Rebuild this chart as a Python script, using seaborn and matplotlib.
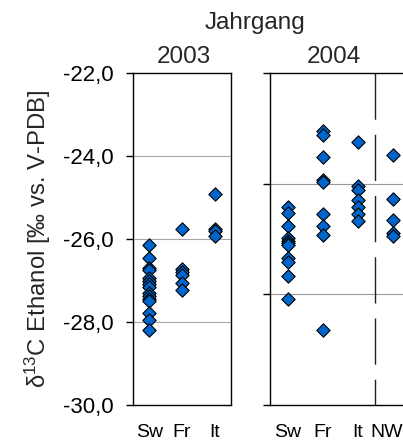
import matplotlib
matplotlib.use("Agg")
import matplotlib.pyplot as plt
import seaborn as sns
import pandas as pd
from matplotlib.transforms import ScaledTranslation

# ---- data ----
origins_2003 = ["Sw", "Fr", "It"]
origins_2004 = ["Sw", "Fr", "It", "NW"]

sw_2003 = [-26.15, -26.45, -26.70, -26.75, -26.95, -27.02, -27.08, -27.15,
           -27.30, -27.38, -27.45, -27.50, -27.80, -27.97, -28.20]
fr_2003 = [-25.75, -26.72, -26.80, -26.88, -27.06, -27.23]
it_2003 = [-24.92, -25.75, -25.82, -25.92]

sw_2004 = [-25.24, -25.38, -25.70, -25.97, -26.05, -26.10, -26.15, -26.45,
           -26.57, -26.90, -27.44]
fr_2004 = [-23.39, -23.50, -24.03, -24.57, -24.63, -25.39, -25.70, -25.91, -28.20]
it_2004 = [-23.67, -24.72, -24.82, -25.06, -25.22, -25.40, -25.56]
nw_2004 = [-23.97, -25.03, -25.55, -25.85, -25.92]

ytick_values = [-30.0, -28.0, -26.0, -24.0, -22.0]
ytick_labels = ["-30,0", "-28,0", "-26,0", "-24,0", "-22,0"]
ytick_values_2004 = [-30.0, -27.3333, -24.6667, -22.0]
years = ["2003", "2004"]
group_title = "Jahrgang"
ylabel = "δ$^{13}$C Ethanol [‰ vs. V-PDB]"

# ---- tables ----
def make_df(groups):
    rows = []
    for origin, vals in groups:
        for v in vals:
            rows.append({"origin": origin, "d13C": v})
    return pd.DataFrame(rows)

df03 = make_df(zip(origins_2003, [sw_2003, fr_2003, it_2003]))
df04 = make_df(zip(origins_2004, [sw_2004, fr_2004, it_2004, nw_2004]))

# ---- style ----
sns.set_style("white")
plt.rcParams["font.family"] = ["Liberation Sans", "DejaVu Sans"]
plt.rcParams["mathtext.fontset"] = "custom"
plt.rcParams["mathtext.rm"] = "Liberation Sans"
plt.rcParams["mathtext.it"] = "Liberation Sans"
plt.rcParams["lines.scale_dashes"] = False

W, H = 403, 441
fig = plt.figure(figsize=(W / 100, H / 100), dpi=100)

top_px, bot_px = 73.3, 404.5
ax1 = fig.add_axes([133 / W, 1 - bot_px / H, 98 / W, (bot_px - top_px) / H])
ax2 = fig.add_axes([270 / W, 1 - bot_px / H, 140 / W, (bot_px - top_px) / H])

marker_kw = dict(jitter=False, marker="D", size=6.8, color="#0066CC",
                 edgecolor="black", linewidth=0.8, zorder=3)

sns.stripplot(data=df03, x="origin", y="d13C", order=origins_2003, ax=ax1, **marker_kw)
sns.stripplot(data=df04, x="origin", y="d13C", order=origins_2004, ax=ax2, **marker_kw)

for ax, n in ((ax1, 3), (ax2, 4)):
    ax.set_ylim(-30, -22)
    ax.set_xlim(-0.5, n - 0.5)
    ax.set_xlabel("")
    ax.set_ylabel("")
    for s in ax.spines.values():
        s.set_color("black")
        s.set_linewidth(1.0)
        s.set_visible(True)
    ax.tick_params(axis="x", length=0, labelsize=14, pad=14, colors="black")
    ax.tick_params(axis="y", direction="out", length=5, width=1.0, colors="black",
                   left=True)
    ax.grid(False)

ax1.set_yticks(ytick_values)
ax1.set_yticklabels(ytick_labels, fontsize=16)
ax1.tick_params(axis="y", pad=9)
for v in ytick_values[1:-1]:
    ax1.axhline(v, color="#a8a8a8", lw=0.8, zorder=1)

ax2.set_yticks(ytick_values_2004)
ax2.set_yticklabels([])
for v in ytick_values_2004[1:-1]:
    ax2.axhline(v, color="#9a9a9a", lw=0.8, zorder=1)
ax2.plot([2.5, 2.5], [-22, -30], color="#222222", lw=1.0,
         linestyle=(0, (33.3, 10.8)), zorder=2)

# keep the last label ("NW") inside the figure edge
nw_lbl = ax2.get_xticklabels()[-1]
nw_lbl.set_horizontalalignment("right")
nw_lbl.set_transform(nw_lbl.get_transform() + ScaledTranslation(10.5 / 100, 0, fig.dpi_scale_trans))

ax1.set_ylabel(ylabel, fontsize=17.2, labelpad=7)

fig.text(255 / W, 1 - 29 / H, group_title, ha="center", va="baseline", fontsize=17.5)
fig.text(183.5 / W, 1 - 63 / H, years[0], ha="center", va="baseline", fontsize=17.5)
fig.text(333.5 / W, 1 - 63 / H, years[1], ha="center", va="baseline", fontsize=17.5)

fig.savefig("out.png", dpi=100)
